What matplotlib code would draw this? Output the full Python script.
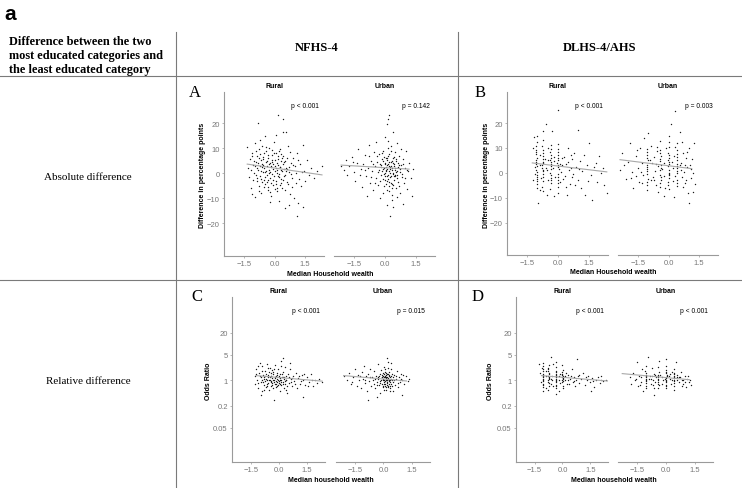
import matplotlib.pyplot as plt
import numpy as np

plt.rcParams['font.family'] = 'Liberation Sans'

# ---- data ----
# x = median household wealth, y = difference (pp) for A/B, odds ratio for C/D
a_rural = [(-1.35,10.4),(-1.3,2.1),(-1.25,-1.5),(-1.2,5.8),(-1.15,-6.0),(-1.1,8.2),(-1.05,3.5),(-1.0,0.2),
           (-0.98,-9.5),(-0.95,12.1),(-0.9,4.4),(-0.88,-3.2),(-0.85,7.0),(-0.8,1.2),(-0.78,-5.1),(-0.75,9.6),
           (-0.72,2.8),(-0.7,-1.0),(-0.68,5.3),(-0.65,-7.8),(-0.62,3.9),(-0.6,11.0),(-0.58,0.5),(-0.55,6.4),
           (-0.52,-2.6),(-0.5,2.0),(-0.48,14.8),(-0.45,-4.3),(-0.42,4.7),(-0.4,8.8),(-0.38,-0.8),(-0.35,3.1),
           (-0.33,-6.7),(-0.3,6.0),(-0.28,1.5),(-0.25,10.2),(-0.22,-2.0),(-0.2,4.2),(-0.18,-9.0),(-0.15,2.4),
           (-0.12,7.5),(-0.1,-0.3),(-0.08,3.6),(-0.05,-4.8),(-0.02,12.7),(0.0,1.0),(0.02,5.5),(0.05,-2.9),
           (0.08,8.3),(0.1,0.3),(0.12,-7.2),(0.15,23.3),(0.15,3.3),(0.18,6.8),(0.2,-1.6),(0.22,-11.0),
           (0.25,2.6),(0.28,9.7),(0.3,-3.8),(0.32,4.9),(0.35,0.9),(0.38,-5.9),(0.4,21.7),(0.4,16.4),
           (0.42,7.1),(0.45,1.8),(0.48,-0.9),(0.5,-14.0),(0.52,5.0),(0.55,16.4),(0.58,2.2),(0.6,-3.3),
           (0.65,10.8),(0.7,0.4),(0.75,-8.4),(0.8,4.0),(0.85,-1.9),(0.9,6.3),(0.95,-10.0),(1.0,2.9),
           (1.05,0.0),(1.1,-17.2),(1.12,8.0),(1.17,-11.9),(1.2,-2.4),(1.25,3.8),(1.3,-5.2),(1.39,-13.6),
           (1.4,11.5),(1.45,1.1),(1.5,-3.0),(1.6,5.2),(1.7,-0.5),(1.8,2.0),(1.95,-1.8),(2.1,0.8),
           (2.34,3.0),(-0.84,20.0),(-1.02,4.9),(-0.92,-0.6),(-0.86,2.3),(-0.76,6.2),(-0.66,0.9),(-0.56,3.3),
           (-0.46,-1.4),(-0.41,1.1),(-0.36,5.1),(-0.31,-2.7),(-0.26,3.8),(-0.21,0.6),(-0.16,-3.9),(-0.11,4.6),
           (-0.06,1.8),(-0.01,-1.2),(0.04,3.0),(0.09,-4.1),(0.14,1.4),(0.19,5.9),(0.24,-0.4),(0.29,2.5),
           (0.34,-2.2),(0.44,3.7),(0.54,-0.7),(0.64,1.9),(-0.6,-3.5),(-0.5,8.0),(-0.3,-5.5),(-0.1,9.2),
           (0.1,-6.0),(0.3,7.6),
           (-1.18,1.2),(-1.12,6.9),(-1.08,-2.8),(-0.97,3.1),(-0.93,9.0),(-0.87,-1.8),(-0.82,4.1),(-0.79,-7.0),
           (-0.71,7.9),(-0.69,-2.2),(-0.63,2.5),(-0.59,5.7),(-0.53,-5.6),(-0.49,0.4),(-0.44,10.5),(-0.39,-3.3),
           (-0.34,7.3),(-0.29,0.2),(-0.24,-7.5),(-0.19,2.9),(-0.14,5.2),(-0.09,-2.5),(-0.04,8.1),(0.01,-6.4),
           (0.06,2.0),(0.11,4.3),(0.16,-1.0),(0.21,9.0),(0.26,-4.6),(0.31,1.2),(0.36,6.2),(0.41,-2.8),
           (0.46,4.4),(0.51,-6.8),(0.57,0.9),(0.62,6.0),(0.68,-4.2),(0.73,2.4),(0.78,8.7),(0.83,-0.3),
           (0.88,-5.6),(0.93,3.3),(1.08,-3.7),(1.15,5.5),(1.35,0.5),(-0.7,13.3),(-0.2,-11.5),(0.05,15.2),
           (-1.1,-8.2),(0.7,-12.5)]
a_urban = [(-2.15,3.0),(-2.0,1.5),(-1.9,5.2),(-1.85,-0.6),(-1.75,2.8),(-1.6,6.5),(-1.5,0.4),(-1.45,-2.9),
           (-1.35,4.1),(-1.3,9.8),(-1.2,1.9),(-1.15,-5.6),(-1.1,3.6),(-1.0,7.4),(-0.95,-1.2),(-0.9,-8.9),
           (-0.85,2.2),(-0.8,11.5),(-0.75,-3.8),(-0.7,5.0),(-0.65,0.8),(-0.6,-6.6),(-0.55,8.6),(-0.5,2.9),
           (-0.45,-1.8),(-0.42,12.6),(-0.4,4.4),(-0.35,-4.5),(-0.3,1.2),(-0.28,7.7),(-0.25,-9.8),(-0.2,3.3),
           (-0.18,-0.5),(-0.15,5.8),(-0.12,-2.3),(-0.1,9.1),(-0.08,1.6),(-0.05,-5.0),(-0.02,4.0),(0.0,0.2),
           (0.02,14.6),(0.05,2.5),(0.08,-3.0),(0.1,6.2),(0.1,-12.6),(0.12,19.7),(0.12,-0.9),(0.15,3.8),
           (0.17,21.7),(0.18,-7.1),(0.2,1.0),(0.22,23.3),(0.22,7.9),(0.25,-1.6),(0.26,-17.0),(0.28,4.7),
           (0.3,10.9),(0.32,-4.2),(0.35,2.0),(0.37,-13.6),(0.38,6.0),(0.4,16.4),(0.4,-0.2),(0.42,3.1),
           (0.45,-2.6),(0.48,8.4),(0.5,1.4),(0.52,-5.7),(0.55,4.9),(0.58,-0.8),(0.6,12.0),(0.62,2.7),
           (0.65,-3.4),(0.7,6.8),(0.72,-8.0),(0.75,0.5),(0.8,3.5),(0.85,-1.5),(0.9,-12.3),(0.9,5.6),
           (0.95,-4.0),(1.0,2.1),(1.05,8.9),(1.1,-6.3),(1.15,0.9),(1.2,4.3),(1.25,-2.0),(1.3,-9.0),
           (1.35,1.7),(-0.22,2.4),(-0.12,4.9),(-0.02,-1.0),(0.04,0.9),(0.08,5.3),(0.14,-2.1),(0.18,3.0),
           (0.24,0.0),(0.28,-3.7),(0.32,5.0),(0.36,1.3),(0.44,-1.1),(0.46,3.9),(0.54,0.7),(0.64,4.2),
           (0.06,-4.4),(0.16,7.0),(0.26,2.6),(-0.06,6.6),(0.34,-6.0),(0.5,-0.6),(0.0,3.6),(0.2,-5.2),
           (0.12,1.7),
           (-1.55,4.5),(-1.25,-0.8),(-0.98,1.3),(-0.78,6.9),(-0.68,-1.5),(-0.58,3.6),(-0.48,-4.0),(-0.38,7.0),
           (-0.33,0.5),(-0.27,3.9),(-0.23,-2.9),(-0.17,1.1),(-0.13,8.2),(-0.07,-0.1),(-0.03,2.2),(0.01,-2.6),
           (0.03,6.3),(0.07,1.5),(0.09,-6.8),(0.11,3.2),(0.13,10.3),(0.17,-0.6),(0.19,4.6),(0.21,-3.4),
           (0.23,1.9),(0.27,8.8),(0.29,-1.2),(0.31,2.9),(0.33,-8.6),(0.37,4.1),(0.39,0.3),(0.41,-4.8),
           (0.43,6.5),(0.47,-0.9),(0.49,2.2),(0.53,5.7),(0.57,-2.0),(0.61,0.9),(0.67,3.3),(0.69,-5.1),
           (0.73,1.6),(0.78,9.6),(0.83,-0.4),(0.88,3.9),(0.97,-1.8),(1.07,1.2),(0.15,13.0),(0.35,-10.6),
           (-0.1,-7.8),(0.6,-9.4)]
b_rural = [(-1.05,12.5),(-1.08,9.0),(-1.03,6.1),(-1.06,4.4),(-1.02,2.9),(-1.07,1.0),(-1.04,-0.8),(-1.05,-2.5),
           (-1.03,-4.4),(-1.08,7.6),(-1.06,3.5),(-1.04,-6.2),(-1.05,15.0),(-1.02,0.3),(-1.07,5.2),
           (-0.75,17.0),(-0.78,10.6),(-0.73,8.1),(-0.76,5.4),(-0.72,3.8),(-0.77,2.0),(-0.74,0.7),(-0.75,-1.5),
           (-0.73,-3.2),(-0.77,-5.8),(-0.76,6.8),(-0.72,4.5),(-0.74,1.2),(-0.97,-12.3),(-0.75,13.4),
           (-0.6,19.7),(-0.35,11.2),(-0.38,8.5),(-0.33,6.0),(-0.36,4.2),(-0.34,2.6),(-0.37,0.1),(-0.35,-2.0),
           (-0.33,-4.1),(-0.36,3.4),(-0.34,7.2),(-0.37,-6.5),(-0.35,1.6),
           (-0.02,25.3),(-0.3,16.9),(0.0,9.7),(0.02,7.0),(-0.02,5.1),(0.01,3.0),(0.03,1.4),(-0.01,-0.6),
           (0.0,-3.0),(0.02,-5.5),(-0.03,4.0),(0.01,2.2),(0.0,11.8),(0.02,-8.2),
           (0.3,6.2),(0.35,-1.2),(0.4,3.5),(0.5,10.0),(0.55,1.0),(0.6,-4.5),(0.7,5.5),(0.75,-0.3),
           (0.8,7.9),(0.9,2.4),(0.97,17.4),(1.0,-2.8),(1.1,4.6),(1.2,0.6),(1.3,-9.0),(1.4,3.2),
           (1.5,12.0),(1.6,-1.0),(1.68,-11.0),(1.75,2.5),(1.9,-3.6),(2.0,6.8),(2.1,0.0),(2.25,-5.0),
           (2.39,-8.0),(1.15,-6.0),(0.45,-8.7),(-0.2,-9.2),(-1.24,10.0),(-1.22,-3.0),(-1.18,14.5),
           (-0.9,-6.9),(-0.55,-9.0),(-0.5,9.8),(-0.9,3.2),(-0.6,1.8),(-0.2,4.8),(0.15,0.5),(0.2,5.8),
           (-1.15,2.2),(-0.85,-2.1),(-0.5,5.0),(-0.15,-1.5),(0.1,3.6),(0.25,-2.5),(0.65,2.0),
           (-1.06,10.6),(-1.04,-1.6),(-1.07,8.2),(-1.03,-3.4),(-0.76,9.3),(-0.74,-0.4),(-0.77,3.0),(-0.73,-7.2),
           (-0.36,9.6),(-0.34,-1.0),(-0.37,5.0),(-0.33,-3.0),(0.01,8.4),(-0.02,-1.8),(0.02,6.0),(0.0,-4.2),
           (-0.9,7.0),(-0.62,5.6),(-0.5,-2.8),(-0.18,6.4),(0.12,-3.8),(0.22,3.0),(0.5,4.2),(0.62,7.0),
           (0.85,-4.8),(1.05,1.6),(1.25,7.2),(1.45,-3.2),(1.85,4.0),(2.2,2.0),(-0.55,1.2),(-0.25,2.0),
           (-1.15,-0.5),(0.38,-5.6),(0.7,-1.8)]
b_urban = [(-2.4,1.0),(-2.3,8.0),(-2.1,-2.5),(-2.0,4.5),(-1.9,12.0),(-1.8,0.5),(-1.75,-6.0),(-1.6,6.8),
           (-1.5,2.0),(-1.45,-3.5),(-1.4,10.0),(-1.3,4.0),(-1.25,-1.0),(-1.2,14.0),
           (-1.05,9.5),(-1.07,7.0),(-1.03,5.0),(-1.06,3.2),(-1.04,1.5),(-1.05,-0.5),(-1.02,-2.5),(-1.06,-4.8),
           (-1.04,6.0),(-1.07,2.4),(-1.0,16.0),(-1.05,-7.0),
           (-0.85,11.0),(-0.8,3.8),(-0.75,-1.8),(-0.7,6.5),(-0.65,0.8),(-0.6,-5.0),(-0.55,8.8),(-0.5,2.9),
           (-0.4,13.0),(-0.42,9.0),(-0.38,6.8),(-0.41,4.8),(-0.39,3.0),(-0.4,1.2),(-0.42,-0.8),(-0.38,-3.0),
           (-0.4,-5.6),(-0.41,5.7),(-0.39,2.0),(-0.24,-9.2),
           (0.34,25.0),(0.12,19.7),(0.0,15.0),(0.02,10.5),(-0.02,8.0),(0.01,6.0),(0.03,4.4),(-0.01,2.8),
           (0.0,1.0),(0.02,-1.0),(-0.02,-3.5),(0.01,-6.5),(0.03,3.6),(-0.03,5.2),(0.0,0.0),(0.02,-2.2),
           (0.42,12.0),(0.4,7.5),(0.44,5.0),(0.41,3.4),(0.43,1.8),(0.4,-0.2),(0.42,-2.8),(0.44,-5.2),
           (0.41,9.3),(0.43,2.6),
           (0.6,4.0),(0.65,-1.5),(0.7,8.0),(0.75,0.5),(0.8,-4.0),(0.85,6.0),(0.9,2.2),(0.95,-8.0),
           (1.0,-12.3),(1.0,10.0),(1.05,3.0),(1.1,-2.0),(1.15,5.5),(1.2,0.0),(1.25,12.0),(1.3,-4.5),
           (0.55,16.5),(0.25,-9.5),(-0.2,4.0),(0.2,2.0),(-0.6,3.5),(0.2,-3.2),(-0.2,-1.2),(0.6,1.0),
           (-0.85,-3.0),(0.8,3.0),(-1.3,-4.2),(0.25,6.8),
           (-2.2,3.0),(-1.85,-2.0),(-1.55,9.0),(-1.35,0.2),(-1.05,8.2),(-1.04,0.6),(-1.06,-3.6),(-0.9,5.2),
           (-0.72,-3.0),(-0.58,10.5),(-0.41,7.8),(-0.39,-1.8),(-0.4,-4.2),(-0.3,1.5),(0.01,7.0),(-0.02,-4.8),
           (0.02,12.5),(0.0,-0.5),(0.15,4.5),(0.3,-1.2),(0.41,6.2),(0.43,0.8),(0.42,-4.0),(0.55,3.2),
           (0.7,-5.5),(0.9,8.5),(1.1,1.5),(1.2,-7.5),(0.85,-2.8),(-0.1,9.8),(-0.5,-7.5),(0.3,10.2),
           (-1.6,-1.2),(-0.15,-6.0),(0.68,12.5)]
c_rural = [(-1.3,1.3),(-1.25,0.8),(-1.2,2.0),(-1.15,1.0),(-1.1,0.6),(-1.05,1.6),(-1.0,3.0),(-0.98,0.9),
           (-0.95,1.2),(-0.9,0.5),(-0.88,2.4),(-0.85,1.4),(-0.8,0.75),(-0.78,1.1),(-0.75,1.8),(-0.72,0.95),
           (-0.7,0.65),(-0.68,1.5),(-0.65,2.8),(-0.62,1.05),(-0.6,0.85),(-0.58,1.25),(-0.55,0.55),(-0.52,1.7),
           (-0.5,1.0),(-0.48,2.2),(-0.45,0.7),(-0.42,1.35),(-0.4,0.9),(-0.38,1.9),(-0.35,1.15),(-0.32,0.6),
           (-0.3,1.45),(-0.28,0.28),(-0.25,1.0),(-0.22,2.6),(-0.2,0.8),(-0.18,1.3),(-0.15,0.95),(-0.12,1.6),
           (-0.1,0.7),(-0.08,1.1),(-0.05,2.0),(-0.02,0.85),(0.0,1.2),(0.03,0.5),(0.05,1.5),(0.08,1.0),
           (0.1,3.4),(0.12,0.75),(0.15,1.25),(0.19,4.2),(0.2,0.9),(0.22,1.7),(0.25,0.6),(0.28,1.1),
           (0.3,2.3),(0.33,0.8),(0.35,1.35),(0.4,1.0),(0.45,0.45),(0.5,1.5),(0.55,0.85),(0.6,2.0),
           (0.65,1.1),(0.7,0.7),(0.75,1.3),(0.8,0.95),(0.9,1.6),(0.95,0.6),(1.0,1.15),(1.1,0.8),
           (1.2,1.4),(1.28,0.35),(1.3,1.0),(1.4,0.75),(1.5,1.2),(1.6,0.9),(1.7,1.5),(1.8,0.7),
           (1.9,1.05),(2.0,0.85),(2.15,1.1),(2.3,0.9),(-0.95,0.4),(0.6,3.0),
           (-0.9,1.0),(-0.8,1.25),(-0.7,1.1),(-0.6,1.4),(-0.5,1.2),(-0.45,0.95),(-0.35,0.85),(-0.3,1.05),
           (-0.2,1.15),(-0.1,0.9),(0.0,0.95),(0.1,1.05),(0.2,1.2),(0.3,0.95),(-0.4,1.6),(-0.15,0.65),
           (0.05,0.8),(-0.65,0.8),
           (-1.22,1.5),(-1.12,0.85),(-1.02,1.3),(-0.92,1.8),(-0.83,0.9),(-0.73,1.35),(-0.63,0.7),(-0.53,1.05),
           (-0.43,1.3),(-0.37,0.75),(-0.33,1.7),(-0.27,0.9),(-0.23,1.25),(-0.17,0.8),(-0.13,1.4),(-0.07,1.0),
           (-0.03,0.75),(0.02,1.35),(0.07,1.15),(0.13,0.9),(0.17,1.5),(0.23,0.8),(0.27,1.25),(0.37,1.05),
           (0.43,0.7),(0.52,1.2),(0.62,0.9),(0.72,1.15),(0.85,0.8),(1.05,1.3),(1.15,0.95),(1.35,1.5),
           (1.55,0.7),(1.75,1.0),(-0.57,2.2),(-0.27,2.0),(0.12,2.4),(-0.8,0.55),(0.35,0.55),(-1.1,2.5)]
c_urban = [(-2.1,1.3),(-1.9,1.0),(-1.8,1.6),(-1.7,0.8),(-1.6,1.2),(-1.5,2.0),(-1.4,0.7),(-1.35,1.4),
           (-1.3,1.0),(-1.2,0.6),(-1.15,1.7),(-1.1,1.1),(-1.0,2.5),(-0.95,0.85),(-0.9,1.3),(-0.85,0.5),
           (-0.82,0.28),(-0.8,1.5),(-0.75,0.95),(-0.7,2.1),(-0.65,0.7),(-0.6,1.2),(-0.55,1.0),(-0.5,1.8),
           (-0.45,0.6),(-0.4,1.35),(-0.35,0.9),(-0.3,2.8),(-0.28,1.1),(-0.25,0.75),(-0.2,1.5),(-0.18,0.45),
           (-0.15,1.0),(-0.12,1.9),(-0.1,0.8),(-0.08,1.25),(-0.05,0.65),(-0.02,1.6),(0.0,1.05),(0.02,0.9),
           (0.05,2.3),(0.08,0.7),(0.1,1.3),(0.12,1.0),(0.15,0.55),(0.18,1.45),(0.19,4.2),(0.2,0.85),
           (0.22,1.15),(0.25,3.2),(0.28,0.95),(0.3,1.7),(0.32,0.6),(0.35,1.2),(0.38,0.8),(0.4,2.0),
           (0.45,1.0),(0.5,0.5),(0.55,1.4),(0.6,0.75),(0.65,1.1),(0.7,1.8),(0.75,0.65),(0.8,1.25),
           (0.85,0.9),(0.9,1.5),(0.95,0.4),(1.0,1.05),(1.1,0.8),(1.2,1.3),(1.3,0.95),(1.35,1.1),
           (0.42,3.0),(-0.35,0.35),
           (0.0,1.3),(0.05,1.0),(0.1,0.8),(0.15,1.15),(0.2,1.05),(0.25,0.7),(0.3,1.0),(0.35,0.9),
           (-0.05,1.1),(-0.1,1.2),(0.12,1.6),(0.22,0.65),(0.28,1.4),(-0.2,0.95),(0.05,1.5),(0.18,0.75),
           (0.4,1.3),(0.45,0.7),(-0.3,1.2),(0.08,1.2),
           (-1.65,0.9),(-1.25,1.3),(-0.98,1.0),(-0.72,1.2),(-0.52,0.8),(-0.42,1.1),(-0.32,0.75),(-0.22,1.3),
           (-0.16,0.85),(-0.06,1.4),(-0.04,0.7),(0.01,1.2),(0.03,0.8),(0.07,1.7),(0.09,0.95),(0.11,1.25),
           (0.13,0.65),(0.14,1.4),(0.16,1.0),(0.19,1.25),(0.21,0.9),(0.23,1.5),(0.26,1.1),(0.27,0.8),
           (0.31,1.3),(0.33,1.05),(0.36,0.7),(0.39,1.1),(0.44,1.5),(0.48,0.9),(0.52,1.2),(0.58,1.0),
           (0.68,1.3),(0.78,0.85),(0.92,1.1),(1.05,1.4),(0.1,2.0),(0.24,2.2),(0.02,0.55),(0.34,0.5)]
d_rural = [(-1.05,3.0),(-1.08,2.2),(-1.03,1.8),(-1.06,1.5),(-1.04,1.3),(-1.07,1.1),(-1.05,0.95),(-1.03,0.8),
           (-1.06,0.65),(-1.04,0.5),(-1.07,1.2),(-1.05,2.5),
           (-0.6,4.5),(-0.75,2.6),(-0.78,2.0),(-0.73,1.6),(-0.76,1.35),(-0.74,1.15),(-0.77,1.0),(-0.75,0.85),
           (-0.73,0.7),(-0.76,0.55),(-0.74,1.25),(-0.77,1.8),
           (-0.35,3.2),(-0.37,2.3),(-0.33,1.7),(-0.36,1.4),(-0.34,1.2),(-0.35,1.05),(-0.37,0.9),(-0.33,0.75),
           (-0.36,0.6),(-0.34,1.5),(-0.35,1.1),(-0.37,0.42),
           (0.0,2.6),(0.02,1.9),(-0.02,1.5),(0.01,1.3),(0.03,1.15),(-0.01,1.0),(0.0,0.88),(0.02,0.72),
           (-0.02,1.25),(0.01,0.6),
           (0.3,1.4),(0.35,0.8),(0.4,1.1),(0.5,2.0),(0.55,0.9),(0.6,1.25),(0.7,0.7),(0.75,1.05),
           (0.8,3.8),(0.85,1.3),(0.9,0.85),(1.0,1.1),(1.1,1.6),(1.2,0.75),(1.3,1.0),(1.4,1.3),
           (1.5,0.9),(1.6,1.15),(1.7,0.65),(1.8,1.0),(1.9,1.2),(2.0,0.85),(2.1,1.05),(2.2,0.95),
           (2.35,1.0),(1.55,0.5),(-1.2,1.6),(-1.18,0.9),(-1.25,2.8),(-0.9,0.6),(-0.5,2.9),(-0.2,0.5),
           (-0.9,1.3),(-0.55,1.0),(-0.2,1.3),(0.15,1.0),(0.2,1.6),(-0.6,0.8),(-0.15,0.85),(0.45,1.3),
           (-1.06,1.4),(-1.04,0.75),(-1.05,1.05),(-1.03,2.0),(-0.75,1.45),(-0.77,0.9),(-0.74,1.1),(-0.76,2.2),
           (-0.36,1.3),(-0.34,0.95),(-0.35,1.8),(-0.33,0.7),(0.01,1.1),(-0.01,1.4),(0.02,0.95),(0.0,1.7),
           (-0.9,1.8),(-0.55,1.3),(-0.5,0.7),(-0.2,1.05),(0.15,1.3),(0.25,0.8),(0.6,0.95),(0.9,1.4),
           (1.25,1.2),(1.65,0.95),(2.05,1.3),(-0.62,1.1),(-0.15,1.5),(0.3,1.05)]
d_urban = [(-1.9,1.2),(-1.8,0.8),(-1.7,1.6),(-1.6,1.0),(-1.5,3.2),(-1.45,0.7),(-1.4,1.3),(-1.3,0.9),
           (-1.25,2.0),(-1.2,0.5),
           (-1.05,2.4),(-1.07,1.8),(-1.03,1.4),(-1.06,1.2),(-1.04,1.0),(-1.05,0.85),(-1.02,0.7),(-1.06,1.6),
           (-1.04,1.1),(-0.95,4.5),
           (-0.85,1.3),(-0.8,0.8),(-0.75,2.2),(-0.7,1.0),(-0.65,0.6),(-0.6,1.5),(-0.55,0.9),(-0.5,1.2),
           (-0.35,3.5),(-0.42,2.3),(-0.38,1.7),(-0.41,1.4),(-0.39,1.2),(-0.4,1.05),(-0.42,0.9),(-0.38,0.75),
           (-0.4,0.6),(-0.6,0.4),
           (0.0,3.8),(0.02,2.5),(-0.02,1.9),(0.01,1.55),(0.03,1.3),(-0.01,1.15),(0.0,1.0),(0.02,0.88),
           (-0.02,0.75),(0.01,0.62),(0.03,1.4),(-0.03,1.1),
           (0.5,3.2),(0.4,2.0),(0.44,1.6),(0.41,1.3),(0.43,1.15),(0.4,1.0),(0.42,0.85),(0.44,0.7),
           (0.41,0.55),
           (0.6,1.4),(0.7,0.9),(0.75,1.2),(0.8,1.7),(0.85,1.0),(0.9,0.8),(1.0,1.3),(1.05,0.65),
           (1.1,1.1),(1.2,0.9),(1.25,1.0),(1.3,0.75),(-0.2,1.2),(0.2,1.1),(-0.2,0.8),(0.2,1.5),
           (-0.8,1.1),(0.6,1.05),(-1.3,1.2),(0.25,0.8),
           (-1.55,1.1),(-1.35,0.75),(-1.05,1.3),(-1.04,0.95),(-1.06,0.6),(-0.9,1.1),(-0.72,1.35),(-0.41,1.3),
           (-0.39,1.1),(-0.4,0.8),(-0.3,1.4),(0.01,1.2),(-0.02,0.95),(0.02,1.7),(0.0,0.7),(0.15,1.3),
           (0.3,1.0),(0.42,1.25),(0.41,0.95),(0.43,1.45),(0.55,1.2),(0.7,1.2),(0.9,1.05),(1.15,1.3),
           (-0.15,1.05),(-0.55,1.4),(0.3,1.7),(-0.7,0.75),(0.85,0.7),(1.0,0.9)]

# fitted lines (start, end) as read
fit_a_rural = [(-1.35, 3.7), (2.35, -0.6)]
fit_a_urban = [(-2.15, 3.3), (1.18, 1.7)]
fit_b_rural = [(-1.26, 4.0), (2.39, 0.4)]
fit_b_urban = [(-2.4, 5.3), (1.15, 1.7)]
fit_c_rural = [(-1.22, 1.35), (2.3, 0.95)]
fit_c_urban = [(-2.1, 1.35), (1.21, 0.96)]
fit_d_rural = [(-1.13, 1.35), (2.43, 0.96)]
fit_d_urban = [(-2.28, 1.53), (1.22, 1.04)]

p_values = {'A': ['p < 0.001', 'p = 0.142'], 'B': ['p < 0.001', 'p = 0.003'],
            'C': ['p < 0.001', 'p = 0.015'], 'D': ['p < 0.001', 'p < 0.001']}

x_ticks = [-1.5, 0.0, 1.5]
x_ticklabels = ['\u22121.5', '0.0', '1.5']
diff_ticks = [-20, -10, 0, 10, 20]
diff_ticklabels = ['\u221220', '\u221210', '0', '10', '20']
or_ticks = [0.05, 0.2, 1, 5, 20]
or_ticklabels = ['0.05', '0.2', '1', '5', '20']

W, H = 742, 489
fig = plt.figure(figsize=(W / 100, H / 100), dpi=100)

# background layer in pixel coords for the table
bg = fig.add_axes([0, 0, 1, 1])
bg.set_xlim(0, W)
bg.set_ylim(H, 0)
bg.axis('off')

line_c = '#7a7a7a'
for yy in (77, 281):
    bg.plot([0, W], [yy, yy], color=line_c, lw=0.8)
for xx in (176, 458):
    bg.plot([xx, xx], [33, H], color=line_c, lw=0.8)

serif = 'Liberation Serif'
bg.text(4, 14, 'a', fontsize=15, fontweight='bold', ha='left', va='center')
bg.text(9, 56, 'Difference between the two\nmost educated categories and\nthe least educated category',
        family=serif, fontsize=8.8, fontweight='bold', ha='left', va='center', linespacing=1.2)
bg.text(317, 48, 'NFHS-4', family=serif, fontsize=9, fontweight='bold', ha='center', va='center')
bg.text(600, 48, 'DLHS-4/AHS', family=serif, fontsize=9, fontweight='bold', ha='center', va='center')
bg.text(88, 177, 'Absolute difference', family=serif, fontsize=8, ha='center', va='center')
bg.text(88, 382, 'Relative difference', family=serif, fontsize=8, ha='center', va='center')

axis_c = '#9a9a9a'


def facet(box, pts, fit, log, first, ptext, strip):
    l, t, r, b = box
    ax = fig.add_axes([l / W, 1 - b / H, (r - l) / W, (b - t) / H])
    x, y = np.array(pts).T
    ax.scatter(x, y, s=1.0, c='#1a1a1a', linewidths=0)
    fx, fy = np.array(fit).T
    ax.plot(fx, fy, color='#a8a8a8', lw=0.8)
    ax.set_xlim(-2.5, 2.45)
    if log:
        ax.set_yscale('log')
        ax.set_ylim(0.0057, 195)
        ax.set_yticks(or_ticks)
        ax.set_yticklabels(or_ticklabels)
        ax.minorticks_off()
    else:
        ax.set_ylim(-33, 32.5)
        ax.set_yticks(diff_ticks)
        ax.set_yticklabels(diff_ticklabels)
    ax.set_xticks(x_ticks)
    ax.set_xticklabels(x_ticklabels)
    for s in ('top', 'right'):
        ax.spines[s].set_visible(False)
    ax.spines['left'].set_visible(first)
    for s in ('left', 'bottom'):
        ax.spines[s].set_color(axis_c)
        ax.spines[s].set_linewidth(0.8)
    ax.tick_params(colors=axis_c, labelcolor='#777777', labelsize=5.5, length=1.5, width=0.5, pad=1.5)
    if not first:
        ax.tick_params(axis='y', left=False, labelleft=False)
    ax.patch.set_alpha(0)
    ax.text(0.5, 1.04, strip, transform=ax.transAxes, ha='center', va='center',
            fontsize=5, fontweight='bold')
    ax.text(0.95, 0.92, ptext, transform=ax.transAxes, ha='right', va='center', fontsize=4.8)
    return ax


layout = {
    'A': dict(rural=(224, 93, 324, 257), urban=(334, 93, 435, 257), letter=(195, 93),
              ylab=(202, 175), xlab=(330, 274)),
    'B': dict(rural=(507, 93, 608, 256), urban=(618, 93, 718, 256), letter=(480, 93),
              ylab=(486, 175), xlab=(613, 273)),
    'C': dict(rural=(232, 298, 325, 463), urban=(336, 298, 430, 463), letter=(197, 297),
              ylab=(208, 381), xlab=(331, 481)),
    'D': dict(rural=(516, 298, 608, 463), urban=(618, 298, 713, 463), letter=(478, 297),
              ylab=(490, 381), xlab=(614, 481)),
}
series = {
    'A': (a_rural, a_urban, fit_a_rural, fit_a_urban),
    'B': (b_rural, b_urban, fit_b_rural, fit_b_urban),
    'C': (c_rural, c_urban, fit_c_rural, fit_c_urban),
    'D': (d_rural, d_urban, fit_d_rural, fit_d_urban),
}

for key, lay in layout.items():
    rp, up, rf, uf = series[key]
    log = key in ('C', 'D')
    facet(lay['rural'], rp, rf, log, True, p_values[key][0], 'Rural')
    facet(lay['urban'], up, uf, log, False, p_values[key][1], 'Urban')
    bg.text(*lay['letter'], key, family=serif, fontsize=12, ha='center', va='center')
    ylab = 'Odds Ratio' if log else 'Difference in percentage points'
    bg.text(*lay['ylab'], ylab, rotation=90, fontsize=5, fontweight='bold', ha='center', va='center')
    xlab = 'Median household wealth' if log else 'Median Household wealth'
    bg.text(*lay['xlab'], xlab, fontsize=5, fontweight='bold', ha='center', va='center')

fig.savefig('out.png', dpi=100)
